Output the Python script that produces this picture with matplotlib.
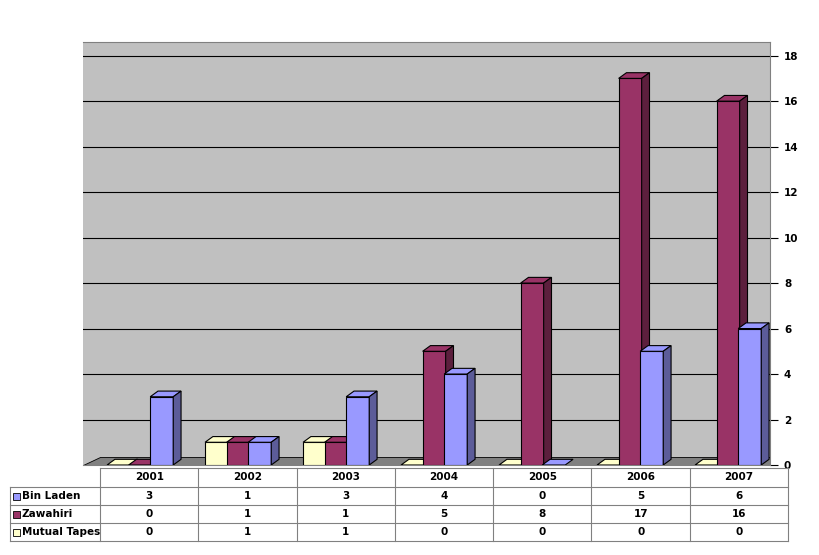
import matplotlib
matplotlib.use("Agg")
import matplotlib.pyplot as plt
from matplotlib.patches import Polygon, Rectangle
from matplotlib.lines import Line2D
import matplotlib.colors as mc

years = ["2001", "2002", "2003", "2004", "2005", "2006", "2007"]
bin_laden = [3, 1, 3, 4, 0, 5, 6]
zawahiri = [0, 1, 1, 5, 8, 17, 16]
mutual = [0, 1, 1, 0, 0, 0, 0]
series_names = ["Bin Laden", "Zawahiri", "Mutual Tapes"]
colors = ["#9999ff", "#993366", "#ffffcc"]
yticks = list(range(0, 19, 2))

W, H = 820, 555
fig = plt.figure(figsize=(8.2, 5.55), dpi=100)
ax = fig.add_axes([83/W, (555-465)/H, (770-83)/W, 423/H])
ax.set_facecolor("#c0c0c0")
ax.set_xlim(-0.673, 6.337)
ax.set_ylim(0, 18.6)
for s in ax.spines.values():
    s.set_color("#808080")
ax.spines["left"].set_visible(False)
ax.set_xticks([])
ax.yaxis.tick_right()
ax.set_yticks(yticks)
ax.set_yticklabels([str(t) for t in yticks], fontsize=7.5, fontweight="bold")
ax.tick_params(axis="y", length=6, width=0.8, pad=4)
for t in yticks[1:]:
    ax.axhline(t, color="black", lw=0.8, zorder=1)

# floor
ax.add_patch(Polygon([(-0.673, 0), (6.337, 0), (6.337, 0.35), (-0.5, 0.35)],
                     closed=True, facecolor="#808080", edgecolor="black", lw=0.6, zorder=2))

dx, dy = 0.08, 0.25
bw = 0.235
offsets = [0.13, -0.09, -0.31]
order = [(mutual, 2), (zawahiri, 1), (bin_laden, 0)]

def shade(c, f):
    r, g, b = mc.to_rgb(c)
    return (r*f, g*f, b*f)

for vals, si in order:
    for i, v in enumerate(vals):
        x0 = i + offsets[si] - bw/2
        ax.bar(x0, v, width=bw, align="edge", color=colors[si],
               edgecolor="black", lw=0.8, zorder=3)
        ax.add_patch(Polygon([(x0, v), (x0+bw, v), (x0+bw+dx, v+dy), (x0+dx, v+dy)],
                             closed=True, facecolor=colors[si], edgecolor="black", lw=0.8, zorder=3))
        if v > 0:
            ax.add_patch(Polygon([(x0+bw, 0), (x0+bw+dx, dy), (x0+bw+dx, v+dy), (x0+bw, v)],
                                 closed=True, facecolor=shade(colors[si], 0.6),
                                 edgecolor="black", lw=0.8, zorder=3))

# data table
def fx(p): return p / W
def fy(p): return 1 - p / H
rows_y = [468, 487, 505, 523, 541]
col_x = [100 + 98.3*i for i in range(8)]
lc = "#808080"
for y in rows_y:
    x_start = 100 if y == 468 else 10
    fig.add_artist(Line2D([fx(x_start), fx(col_x[-1])], [fy(y), fy(y)], color=lc, lw=0.8))
for x in col_x:
    fig.add_artist(Line2D([fx(x), fx(x)], [fy(468), fy(541)], color=lc, lw=0.8))
fig.add_artist(Line2D([fx(10), fx(10)], [fy(487), fy(541)], color=lc, lw=0.8))
for i, yr in enumerate(years):
    fig.text(fx((col_x[i]+col_x[i+1])/2), fy(477.5), yr, ha="center", va="center",
             fontsize=7.5, fontweight="bold")
for r, (vals, name, c) in enumerate(zip([bin_laden, zawahiri, mutual], series_names, colors)):
    yc = (rows_y[r+1] + rows_y[r+2]) / 2
    fig.add_artist(Rectangle((fx(13), fy(yc+3.5)), 7/W, 7/H, facecolor=c, edgecolor="black", lw=0.6))
    fig.text(fx(22), fy(yc), name, ha="left", va="center", fontsize=7.5, fontweight="bold")
    for i, v in enumerate(vals):
        fig.text(fx((col_x[i]+col_x[i+1])/2), fy(yc), str(v), ha="center", va="center",
                 fontsize=7.5, fontweight="bold")

fig.savefig("out.png", dpi=100, facecolor="white")
